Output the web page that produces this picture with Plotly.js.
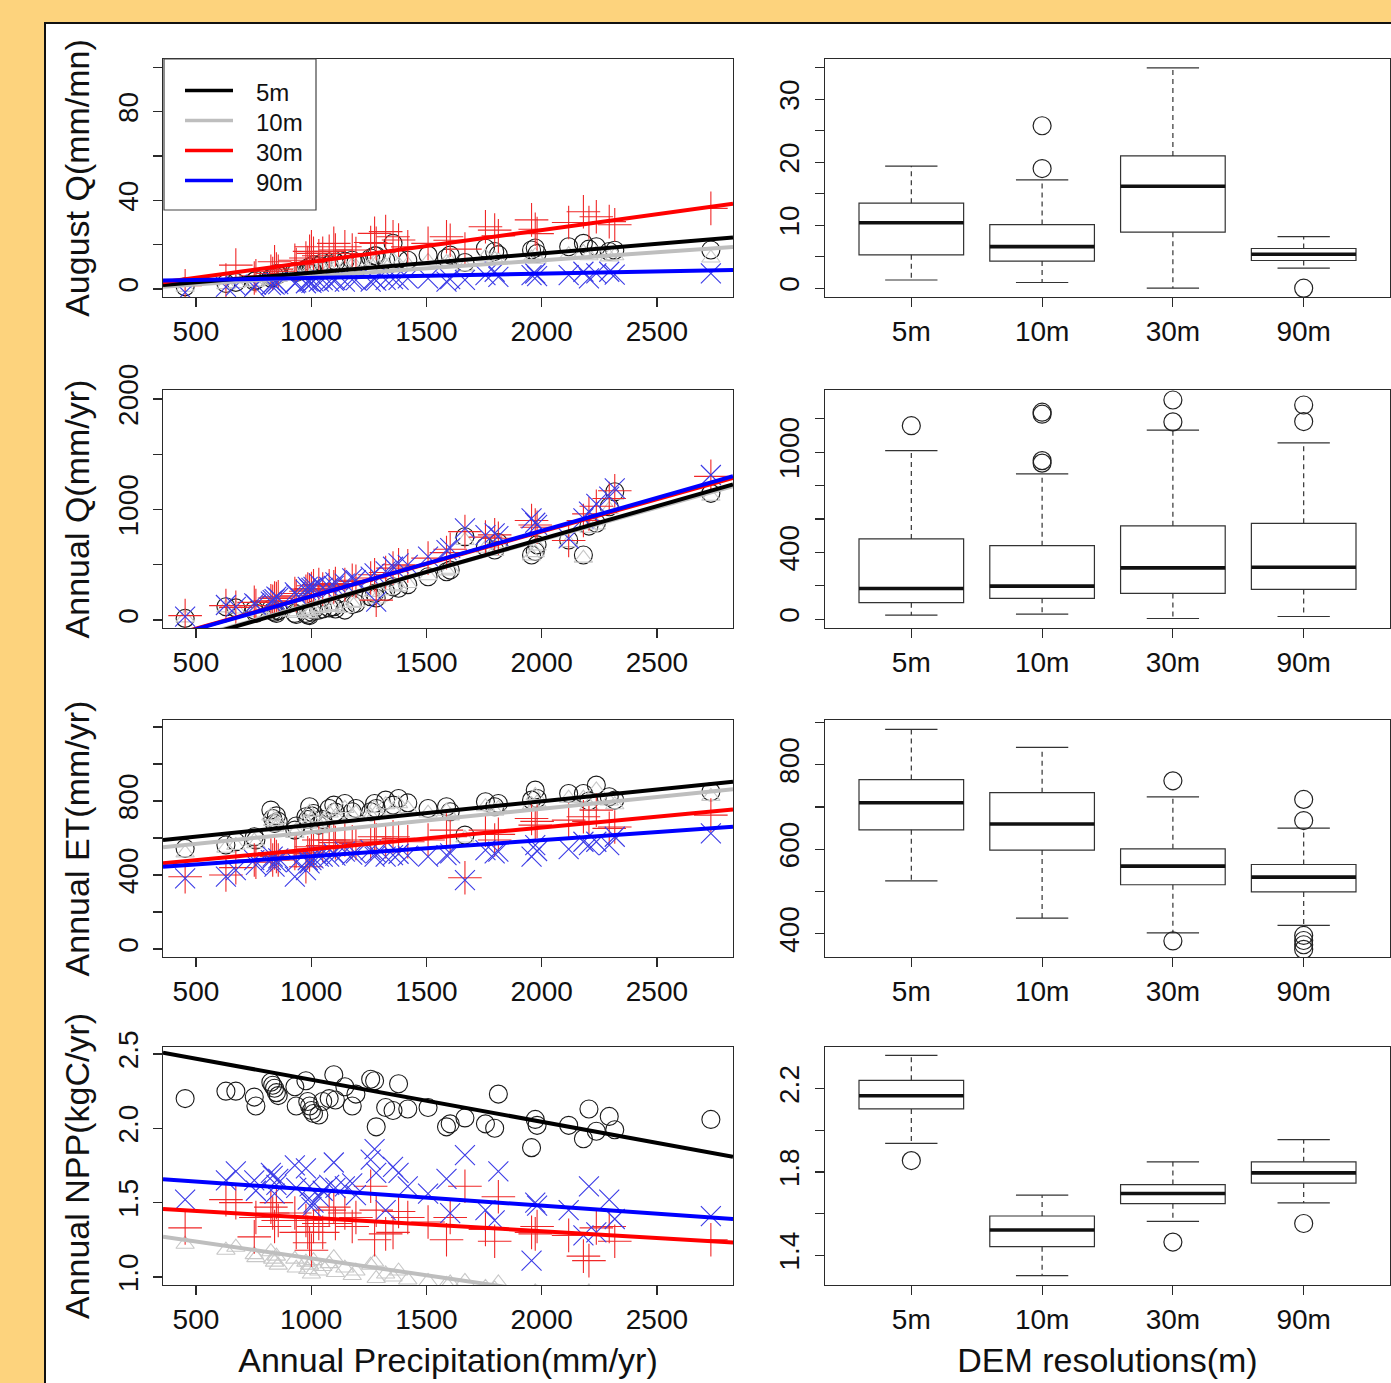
<!DOCTYPE html>
<html><head><meta charset="utf-8">
<script src="https://cdn.plot.ly/plotly-3.0.1.min.js"></script>
<style>html,body{margin:0;padding:0;background:#FDD37D;}#chart{width:1391px;height:1383px;}</style>
</head><body><div id="chart"></div>
<script>
// ---------------- data ----------------
const resolutions = ['5m', '10m', '30m', '90m'];
const seriesColors = ['#000000', '#BEBEBE', '#FF0000', '#0000FF'];
const markerColors = ['#1a1a1a', '#C8C8C8', '#F02828', '#3a3ae6'];
const catX = [1, 2, 3, 4];

const precip = [453, 630, 673, 753, 760, 825, 833, 841, 849, 857, 929, 935, 977, 985, 993, 1001, 1010, 1033, 1050, 1078, 1098, 1105, 1146, 1178, 1194, 1258, 1275, 1282, 1323, 1355, 1379, 1419, 1507, 1587, 1603, 1667, 1756, 1796, 1812, 1956, 1972, 1980, 2117, 2181, 2205, 2237, 2293, 2317, 2734];

// August Q (mm/mn)
const augQ_5m  = [1.0, 2.5, 3.0, 3.5, 4.0, 5.0, 5.5, 6.0, 7.0, 6.5, 8.0, 7.5, 9.0, 8.5, 10.0, 9.0, 11.0, 10.5, 12.0, 11.0, 13.0, 12.0, 12.5, 13.0, 12.0, 14.0, 15.0, 15.0, 13.0, 20.6, 13.5, 13.0, 15.3, 14.0, 15.3, 12.0, 18.4, 16.9, 15.5, 17.6, 18.5, 16.0, 19.1, 20.6, 18.0, 19.1, 16.9, 17.5, 17.6];
const augQ_10m = [0.8, 2.0, 2.5, 3.0, 3.2, 4.0, 4.5, 5.0, 5.5, 5.2, 6.5, 6.0, 7.0, 7.0, 8.0, 7.5, 8.5, 8.5, 9.5, 9.0, 10.0, 9.5, 10.0, 10.5, 10.0, 11.0, 12.0, 11.5, 10.5, 13.0, 11.0, 11.0, 12.5, 12.0, 12.5, 10.0, 14.5, 13.5, 13.0, 14.0, 15.0, 13.5, 15.5, 16.5, 15.0, 16.0, 14.5, 15.0, 14.0];
const augQ_30m = [1.5, 4.0, 10.8, 5.0, 6.0, 8.0, 7.0, 12.3, 9.0, 8.0, 13.0, 11.0, 14.0, 12.0, 17.0, 19.1, 16.1, 15.0, 16.1, 17.0, 20.6, 17.6, 19.1, 17.6, 16.0, 21.0, 25.1, 20.6, 25.9, 23.6, 22.1, 19.0, 20.6, 23.6, 22.0, 18.0, 28.1, 26.6, 24.0, 31.2, 27.0, 25.0, 30.0, 34.9, 30.0, 32.6, 30.4, 29.0, 36.4];
const augQ_90m = [-1.5, 1.0, 1.5, 1.0, 2.0, 1.8, 2.5, 2.0, 3.0, 2.2, 2.6, 3.0, 2.6, 3.5, 3.3, 2.8, 3.5, 3.3, 4.0, 3.3, 3.8, 4.0, 3.3, 4.2, 4.0, 3.3, 4.5, 3.8, 4.1, 4.5, 4.1, 4.8, 4.8, 3.3, 4.5, 4.1, 6.3, 7.8, 5.5, 6.3, 7.0, 5.8, 6.3, 7.8, 4.8, 7.1, 7.8, 6.5, 7.1];
const augQ_intercept = [-1.3, -1.6, -2.13, 3.1];
const augQ_slope     = [0.00869, 0.00728, 0.01436, 0.00194];

// Annual Q (mm/yr)
const annQ_5m  = [15, 120, 110, 90, 60, 100, 80, 70, 60, 85, 60, 50, 60, 45, 40, 70, 90, 90, 100, 110, 120, 100, 90, 140, 150, 211, 241, 200, 256, 301, 287, 320, 392, 437, 452, 754, 663, 633, 700, 588, 620, 680, 724, 588, 850, 875, 1025, 1161, 1146];
const annQ_10m = [20, 110, 100, 95, 70, 105, 90, 80, 70, 95, 75, 60, 75, 60, 55, 85, 100, 105, 110, 120, 130, 115, 105, 150, 160, 220, 250, 190, 265, 310, 300, 330, 400, 445, 460, 720, 650, 620, 690, 580, 610, 670, 700, 560, 830, 860, 1000, 1130, 1120];
const annQ_30m = [40, 130, 115, 160, 130, 175, 170, 200, 195, 210, 240, 220, 260, 280, 270, 285, 310, 320, 280, 310, 300, 330, 320, 360, 350, 380, 410, 180, 430, 470, 500, 490, 560, 610, 640, 800, 750, 770, 740, 900, 860, 840, 720, 900, 960, 1030, 1100, 1170, 1300];
const annQ_90m = [30, 136, 120, 150, 140, 166, 180, 190, 211, 200, 250, 230, 270, 301, 280, 290, 300, 331, 290, 300, 310, 340, 330, 377, 360, 392, 422, 166, 440, 482, 512, 500, 573, 633, 650, 829, 769, 784, 760, 920, 880, 860, 739, 920, 980, 1050, 1116, 1191, 1312];
const annQ_intercept = [-458.5, -442, -370.7, -380];
const annQ_slope     = [0.5955, 0.584, 0.5856, 0.594];

// Annual ET (mm/yr)
const annET_5m  = [544, 562, 580, 607, 590, 751, 706, 679, 720, 690, 643, 665, 715, 700, 769, 720, 733, 670, 700, 760, 778, 740, 787, 742, 760, 742, 787, 760, 805, 778, 814, 790, 760, 769, 742, 616, 796, 769, 787, 805, 859, 814, 841, 841, 800, 886, 823, 805, 850];
const annET_10m = [520, 545, 560, 585, 570, 720, 690, 660, 700, 670, 625, 640, 690, 675, 740, 700, 710, 650, 680, 735, 750, 715, 760, 720, 735, 720, 760, 735, 780, 750, 785, 760, 735, 745, 720, 600, 770, 745, 760, 780, 830, 790, 815, 815, 775, 860, 800, 780, 825];
const annET_30m = [391, 400, 440, 481, 470, 508, 481, 520, 500, 481, 517, 530, 445, 520, 508, 553, 540, 589, 560, 589, 589, 575, 589, 580, 571, 571, 607, 590, 580, 607, 598, 580, 589, 643, 607, 385, 643, 589, 620, 706, 670, 690, 697, 715, 690, 751, 652, 660, 724];
const annET_90m = [382, 391, 427, 481, 455, 481, 500, 445, 470, 490, 391, 470, 427, 480, 463, 481, 490, 499, 500, 499, 517, 505, 526, 510, 517, 535, 499, 520, 499, 508, 515, 505, 499, 508, 517, 373, 535, 517, 526, 499, 562, 530, 540, 580, 562, 580, 562, 607, 625];
const annET_intercept = [543.5, 504.8, 421, 413.8];
const annET_slope     = [0.1274, 0.1266, 0.118, 0.0873];

// Annual NPP (kgC/yr)
const npp_5m  = [2.20, 2.25, 2.25, 2.21, 2.15, 2.31, 2.29, 2.27, 2.24, 2.22, 2.28, 2.15, 2.32, 2.18, 2.15, 2.12, 2.10, 2.09, 2.18, 2.20, 2.36, 2.19, 2.28, 2.15, 2.23, 2.33, 2.32, 2.01, 2.14, 2.12, 2.30, 2.13, 2.14, 2.01, 2.03, 2.07, 2.03, 2.00, 2.23, 1.87, 2.06, 2.02, 2.02, 1.93, 2.13, 1.98, 2.08, 1.99, 2.06];
const npp_10m = [1.22, 1.18, 1.20, 1.15, 1.13, 1.17, 1.12, 1.10, 1.14, 1.08, 1.12, 1.06, 1.10, 1.05, 1.08, 1.02, 1.11, 1.04, 1.07, 1.09, 1.13, 1.03, 1.06, 1.01, 1.04, 1.08, 1.10, 0.99, 1.02, 1.00, 1.04, 0.98, 0.97, 0.95, 0.96, 0.97, 0.93, 0.92, 0.96, 0.88, 0.90, 0.89, 0.87, 0.85, 0.90, 0.86, 0.88, 0.86, 0.80];
const npp_30m = [1.33, 1.52, 1.50, 1.27, 1.40, 1.47, 1.43, 1.34, 1.50, 1.38, 1.43, 1.30, 1.38, 1.30, 1.23, 1.18, 1.34, 1.36, 1.30, 1.45, 1.47, 1.36, 1.43, 1.34, 1.40, 1.61, 1.25, 1.45, 1.29, 1.30, 1.44, 1.40, 1.37, 1.25, 1.40, 1.61, 1.32, 1.24, 1.54, 1.30, 1.29, 1.34, 1.28, 1.14, 1.11, 1.33, 1.34, 1.24, 1.25];
const npp_90m = [1.52, 1.65, 1.71, 1.65, 1.58, 1.70, 1.68, 1.56, 1.62, 1.66, 1.75, 1.60, 1.73, 1.52, 1.61, 1.47, 1.50, 1.54, 1.58, 1.62, 1.77, 1.60, 1.61, 1.63, 1.55, 1.79, 1.86, 1.70, 1.45, 1.74, 1.70, 1.61, 1.56, 1.66, 1.43, 1.82, 1.45, 1.38, 1.71, 1.11, 1.50, 1.48, 1.45, 1.28, 1.61, 1.30, 1.52, 1.39, 1.41];
const npp_intercept = [2.61, 1.352, 1.489, 1.696];
const npp_slope     = [-0.000283, -0.000227, -0.0000906, -0.000108];

// Box plot statistics per resolution (5m, 10m, 30m, 90m)
const augQBox_lo  = [1.3, 0.9, 0.0, 3.2];
const augQBox_q1  = [5.3, 4.3, 8.9, 4.4];
const augQBox_med = [10.4, 6.6, 16.2, 5.4];
const augQBox_q3  = [13.5, 10.1, 21.0, 6.3];
const augQBox_hi  = [19.4, 17.2, 35.0, 8.2];
const augQBox_outX = [2, 2, 4];
const augQBox_outY = [19.0, 25.8, 0.0];

const annQBox_lo  = [24, 30, 4, 16];
const annQBox_q1  = [99, 125, 154, 178];
const annQBox_med = [184, 198, 307, 311];
const annQBox_q3  = [481, 440, 559, 574];
const annQBox_hi  = [1010, 871, 1133, 1056];
const annQBox_outX = [1, 2, 2, 2, 2, 3, 3, 4, 4];
const annQBox_outY = [1159, 935, 950, 1228, 1240, 1182, 1313, 1184, 1283];

const etBox_lo  = [525, 437, 402, 420];
const etBox_q1  = [646, 598, 516, 499];
const etBox_med = [710, 660, 560, 534];
const etBox_q3  = [765, 734, 601, 564];
const etBox_hi  = [884, 841, 724, 650];
const etBox_outX = [3, 3, 4, 4, 4, 4, 4, 4];
const etBox_outY = [762, 383, 718, 668, 396, 384, 374, 363];

const nppBox_lo  = [1.938, 1.303, 1.563, 1.652];
const nppBox_q1  = [2.103, 1.442, 1.648, 1.747];
const nppBox_med = [2.166, 1.522, 1.697, 1.796];
const nppBox_q3  = [2.240, 1.589, 1.740, 1.849];
const nppBox_hi  = [2.360, 1.689, 1.849, 1.956];
const nppBox_outX = [1, 3, 4];
const nppBox_outY = [1.855, 1.464, 1.553];

// ---------------- layout helpers ----------------
const W = 1391, H = 1383;
const fx = p => p / W, fy = p => 1 - p / H;
const FONT = 'Liberation Sans, Arial, Helvetica, sans-serif';
const leftDom = [fx(163), fx(733)];
const rightDom = [fx(825), fx(1390)];
const rows = [[59, 297], [390, 628], [720, 957], [1047, 1285]];
const precipRange = [357, 2830];
const boxRange = [0.34, 4.66];

const leftPanels = [
  { title: 'August Q(mm/mn)', data: [augQ_5m, augQ_10m, augQ_30m, augQ_90m], a: augQ_intercept, b: augQ_slope,
    range: [-3.6, 103.8], tickvals: [0, 20, 40, 60, 80, 100], ticktext: ['0', '', '40', '', '80', ''] },
  { title: 'Annual Q(mm/yr)', data: [annQ_5m, annQ_10m, annQ_30m, annQ_90m], a: annQ_intercept, b: annQ_slope,
    range: [-72, 2081], tickvals: [0, 500, 1000, 1500, 2000], ticktext: ['0', '', '1000', '', '2000'] },
  { title: 'Annual ET(mm/yr)', data: [annET_5m, annET_10m, annET_30m, annET_90m], a: annET_intercept, b: annET_slope,
    range: [-43, 1238], tickvals: [0, 200, 400, 600, 800, 1000, 1200], ticktext: ['0', '', '400', '', '800', '', ''] },
  { title: 'Annual NPP(kgC/yr)', data: [npp_5m, npp_10m, npp_30m, npp_90m], a: npp_intercept, b: npp_slope,
    range: [0.946, 2.547], tickvals: [1.0, 1.5, 2.0, 2.5], ticktext: ['1.0', '1.5', '2.0', '2.5'] }
];
const boxPanels = [
  { lo: augQBox_lo, q1: augQBox_q1, med: augQBox_med, q3: augQBox_q3, hi: augQBox_hi, outX: augQBox_outX, outY: augQBox_outY,
    range: [-1.4, 36.4], tickvals: [0, 5, 10, 15, 20, 25, 30, 35], ticktext: ['0', '', '10', '', '20', '', '30', ''] },
  { lo: annQBox_lo, q1: annQBox_q1, med: annQBox_med, q3: annQBox_q3, hi: annQBox_hi, outX: annQBox_outX, outY: annQBox_outY,
    range: [-53, 1373], tickvals: [0, 200, 400, 600, 800, 1000, 1200], ticktext: ['0', '', '400', '', '', '1000', ''] },
  { lo: etBox_lo, q1: etBox_q1, med: etBox_med, q3: etBox_q3, hi: etBox_hi, outX: etBox_outX, outY: etBox_outY,
    range: [345, 906], tickvals: [400, 500, 600, 700, 800, 900], ticktext: ['400', '', '600', '', '800', ''] },
  { lo: nppBox_lo, q1: nppBox_q1, med: nppBox_med, q3: nppBox_q3, hi: nppBox_hi, outX: nppBox_outX, outY: nppBox_outY,
    range: [1.258, 2.40], tickvals: [1.4, 1.6, 1.8, 2.0, 2.2], ticktext: ['1.4', '', '1.8', '', '2.2'] }
];

function axBase() {
  return { showline: true, mirror: true, linecolor: '#2a2a2a', linewidth: 1.3, ticks: 'outside', ticklen: 9,
    tickwidth: 1.2, tickcolor: '#2a2a2a', showgrid: false, zeroline: false, fixedrange: true, automargin: false,
    tickfont: { family: FONT, size: 28, color: '#111' } };
}

const symbols = ['circle-open', 'triangle-up-open', 'cross-thin-open', 'x-thin-open'];
const symSize = [18, 16, 24, 20];

const traces = [];
const layout = {
  width: W, height: H, margin: { l: 0, r: 0, t: 0, b: 0 },
  paper_bgcolor: '#FDD37D', plot_bgcolor: '#FFFFFF', showlegend: false,
  font: { family: FONT, color: '#111' },
  shapes: [], annotations: []
};

// white panel with dark border
layout.shapes.push({ type: 'rect', xref: 'paper', yref: 'paper', x0: fx(45), x1: 1.02, y0: -0.02, y1: fy(23),
  fillcolor: '#FFFFFF', line: { color: '#111', width: 2 }, layer: 'below' });

leftPanels.forEach((p, r) => {
  const n = 2 * r + 1;
  const xa = 'x' + n, ya = 'y' + n;
  const xk = 'xaxis' + n, yk = 'yaxis' + n;
  layout[xk] = Object.assign(axBase(), { domain: leftDom, anchor: ya, range: precipRange,
    tickmode: 'array', tickvals: [500, 1000, 1500, 2000, 2500], ticktext: ['500', '1000', '1500', '2000', '2500'] });
  layout[yk] = Object.assign(axBase(), { domain: [fy(rows[r][1]), fy(rows[r][0])], anchor: xa, range: p.range,
    tickmode: 'array', tickvals: p.tickvals, ticktext: p.ticktext, tickangle: -90, ticklabelstandoff: 4,
    title: { text: p.title, font: { family: FONT, size: 34, color: '#111' }, standoff: 12 } });
  if (r === 3) layout[xk].title = { text: 'Annual Precipitation(mm/yr)', font: { family: FONT, size: 34, color: '#111' }, standoff: 14 };
  // points
  p.data.forEach((ys, s) => {
    traces.push({ type: 'scatter', mode: 'markers', x: precip, y: ys, xaxis: xa, yaxis: ya, name: resolutions[s],
      marker: { symbol: symbols[s], size: symSize[s], color: markerColors[s], line: { width: 1.1, color: markerColors[s] } },
      hoverinfo: 'skip' });
  });
  // regression lines
  [1, 0, 2, 3].forEach(s => {
    traces.push({ type: 'scatter', mode: 'lines', x: precipRange,
      y: precipRange.map(v => p.a[s] + p.b[s] * v), xaxis: xa, yaxis: ya, name: resolutions[s] + ' fit',
      line: { color: seriesColors[s], width: 4 }, hoverinfo: 'skip' });
  });
});

boxPanels.forEach((p, r) => {
  const n = 2 * r + 2;
  const xa = 'x' + n, ya = 'y' + n;
  const xk = 'xaxis' + n, yk = 'yaxis' + n;
  layout[xk] = Object.assign(axBase(), { domain: rightDom, anchor: ya, range: boxRange,
    tickmode: 'array', tickvals: catX, ticktext: resolutions });
  layout[yk] = Object.assign(axBase(), { domain: [fy(rows[r][1]), fy(rows[r][0])], anchor: xa, range: p.range,
    tickmode: 'array', tickvals: p.tickvals, ticktext: p.ticktext, tickangle: -90, ticklabelstandoff: 5 });
  if (r === 3) layout[xk].title = { text: 'DEM resolutions(m)', font: { family: FONT, size: 34, color: '#111' }, standoff: 14 };
  // dashed whiskers
  const wx = [], wy = [], cx = [], cy = [], mx = [], my = [];
  catX.forEach((c, i) => {
    wx.push(c, c, null, c, c, null);
    wy.push(p.q3[i], p.hi[i], null, p.q1[i], p.lo[i], null);
    cx.push(c - 0.2, c + 0.2, null, c - 0.2, c + 0.2, null);
    cy.push(p.hi[i], p.hi[i], null, p.lo[i], p.lo[i], null);
    mx.push(c - 0.4, c + 0.4, null);
    my.push(p.med[i], p.med[i], null);
  });
  traces.push({ type: 'scatter', mode: 'lines', x: wx, y: wy, xaxis: xa, yaxis: ya,
    line: { color: '#333', width: 1.2, dash: '5px,4px' }, hoverinfo: 'skip', name: 'whiskers' });
  traces.push({ type: 'scatter', mode: 'lines', x: cx, y: cy, xaxis: xa, yaxis: ya,
    line: { color: '#333', width: 1.2 }, hoverinfo: 'skip', name: 'caps' });
  // box body (fences set to the quartiles; whiskers drawn dashed above)
  traces.push({ type: 'box', x: catX, q1: p.q1, median: p.med, q3: p.q3, lowerfence: p.q1, upperfence: p.q3,
    width: 0.8, xaxis: xa, yaxis: ya, fillcolor: 'rgba(255,255,255,0)', line: { color: '#333', width: 1.2 },
    boxpoints: false, hoverinfo: 'skip', name: 'box' });
  traces.push({ type: 'scatter', mode: 'lines', x: mx, y: my, xaxis: xa, yaxis: ya,
    line: { color: '#111', width: 3.6 }, hoverinfo: 'skip', name: 'median' });
  traces.push({ type: 'scatter', mode: 'markers', x: p.outX, y: p.outY, xaxis: xa, yaxis: ya,
    marker: { symbol: 'circle-open', size: 18, color: '#222', line: { width: 1.2 } }, hoverinfo: 'skip', name: 'outliers' });
});

// legend (top-left panel)
layout.shapes.push({ type: 'rect', xref: 'paper', yref: 'paper', x0: fx(164), x1: fx(316), y0: fy(210), y1: fy(59),
  fillcolor: '#FFFFFF', line: { color: '#444', width: 1.2 } });
resolutions.forEach((name, s) => {
  const yy = 90.5 + 30 * s;
  layout.shapes.push({ type: 'line', xref: 'paper', yref: 'paper', x0: fx(185), x1: fx(233), y0: fy(yy), y1: fy(yy),
    line: { color: seriesColors[s], width: 3.5 } });
  layout.annotations.push({ xref: 'paper', yref: 'paper', x: fx(254), y: fy(yy + 2), xanchor: 'left', yanchor: 'middle',
    text: name, showarrow: false, font: { family: FONT, size: 24, color: '#111' } });
});

Plotly.newPlot('chart', traces, layout, { staticPlot: true, displayModeBar: false });
</script>
</body></html>
